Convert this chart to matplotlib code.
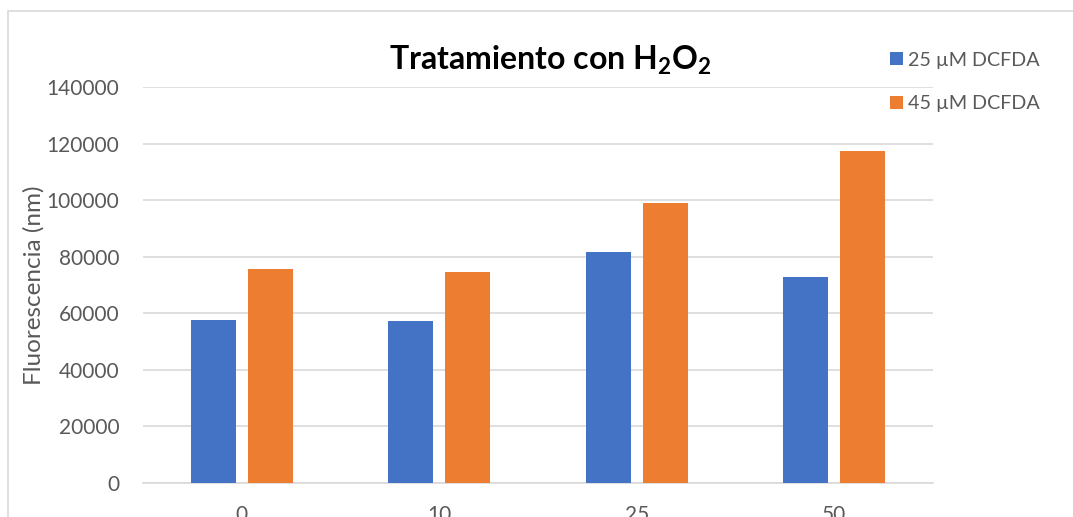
import numpy as np
import matplotlib.pyplot as plt
from matplotlib.patches import Rectangle

# datos
categorias = ["0", "10", "25", "50"]
dcfda_25 = [57600, 57400, 81500, 72700]
dcfda_45 = [75800, 74500, 99100, 117300]
series_labels = ["25 µM DCFDA", "45 µM DCFDA"]
yticks = [0, 20000, 40000, 60000, 80000, 100000, 120000, 140000]

plt.rcParams["font.family"] = ["Lato", "DejaVu Sans"]
plt.rcParams["mathtext.fontset"] = "custom"
plt.rcParams["mathtext.rm"] = "Lato"
plt.rcParams["mathtext.bf"] = "Lato:bold"
gris = "#595959"

fig = plt.figure(figsize=(10.73, 5.17), dpi=100)
ax = fig.add_axes([143 / 1073, 34 / 517, 790 / 1073, 396 / 517])

x = np.arange(len(categorias))
w = 0.228
off = 0.144
b1 = ax.bar(x - off, dcfda_25, w, color="#4472C4", label=series_labels[0], zorder=3)
b2 = ax.bar(x + off, dcfda_45, w, color="#ED7D31", label=series_labels[1], zorder=3)

ax.set_xlim(-0.5, len(categorias) - 0.5)
ax.set_ylim(0, 140000)
ax.set_yticks(yticks)
ax.set_yticklabels([str(v) for v in yticks])
ax.set_xticks(x)
ax.set_xticklabels(categorias)
ax.tick_params(axis="both", length=0, labelsize=15, colors=gris)
ax.tick_params(axis="y", pad=17)
ax.tick_params(axis="x", pad=16)
ax.grid(axis="y", color="#d9d9d9", linewidth=1.2, zorder=0)
for s in ["top", "right", "left"]:
    ax.spines[s].set_visible(False)
ax.spines["bottom"].set_color("#d9d9d9")
ax.spines["bottom"].set_linewidth(1.2)

ax.set_ylabel("Fluorescencia (nm)", fontsize=17.5, color=gris)
ax.yaxis.set_label_coords(-0.124, 0.5)

fig.text(550 / 1073, 1 - 60 / 517, r"Tratamiento con H$_\mathbf{2}$O$_\mathbf{2}$",
         ha="center", va="center", fontsize=23, fontweight="bold", color="black")

fig.legend(handles=[b1, b2], loc="upper left", bbox_to_anchor=(872 / 1073, 1 - 34 / 517),
           frameon=False, fontsize=14.2, labelcolor=gris, handlelength=0.65,
           handleheight=0.65, handletextpad=0.3, labelspacing=1.35)

# borde del gráfico
fig.patches.append(Rectangle((8 / 1073, -0.1), 1.2, 1 - 11 / 517 + 0.1,
                             transform=fig.transFigure, fill=False,
                             edgecolor="#d9d9d9", linewidth=1.2))

fig.savefig("out.png", dpi=100)
